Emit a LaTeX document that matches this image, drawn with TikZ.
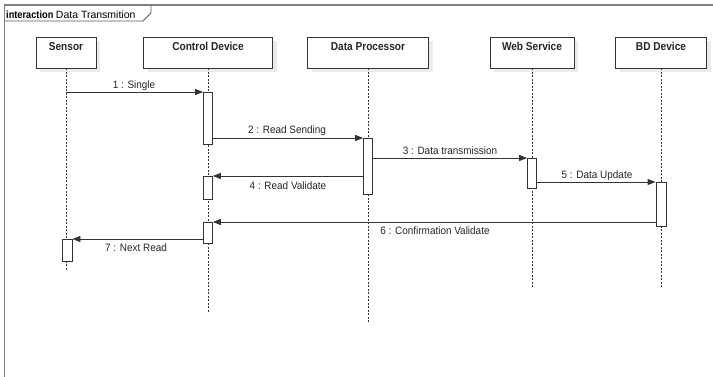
\documentclass[tikz,border=0pt]{standalone}
\usepackage{fontspec}
\setmainfont{Liberation Sans}
\newfontfamily\headfont[FakeStretch=0.88]{Liberation Sans}
\newfontfamily\msgfont[FakeStretch=0.93]{Liberation Sans}
\usetikzlibrary{arrows.meta,shadows}
\definecolor{ln}{HTML}{333333}
\definecolor{fr}{HTML}{808080}
\begin{document}
\begin{tikzpicture}[x=1pt,y=-1pt,
  head/.style={draw=ln, line width=0.8pt, fill=white, minimum height=31pt, inner sep=0pt,
    general shadow={fill=black!8, shadow xshift=4pt, shadow yshift=-4pt}},
  headtxt/.style={font=\headfont\bfseries\fontsize{11.5}{13}\selectfont, text=black!85, anchor=north, yshift=-2pt},
  act/.style={draw=ln, line width=0.8pt, fill=white, minimum width=9pt, inner sep=0pt, anchor=north},
  life/.style={draw=ln, line width=0.6pt, dash pattern=on 2pt off 1.5pt},
  msg/.style={draw=ln, line width=0.8pt, -{Triangle[length=8pt,width=6pt]}},
  lbl/.style={font=\msgfont\fontsize{10.7}{12}\selectfont, text=black!85, inner sep=0pt},
]
\useasboundingbox[fill=white] (0,0) rectangle (713,376);

% frame
\draw[fr, line width=1.6pt] (4.5,377) -- (4.5,5) -- (714,5);
\draw[ln!80, line width=0.9pt] (4.5,21) -- (143,21) -- (151,13) -- (151,5);
\node[anchor=base west, inner sep=0pt] (title) at (6,18)
  {{\headfont\bfseries\fontsize{10.5}{12}\selectfont interaction}\hspace{2.5pt}{\fontsize{10.5}{12}\selectfont Data Transmition}};

% heads
\node[head, minimum width=60pt, label={[headtxt]north:Sensor}] (sensor) at (66,52.5) {};
\node[head, minimum width=129pt, label={[headtxt]north:Control Device}] (ctrl) at (208,52.5) {};
\node[head, minimum width=121pt, label={[headtxt]north:Data Processor}] (dp) at (368,52.5) {};
\node[head, minimum width=84pt, label={[headtxt]north:Web Service}] (web) at (532,52.5) {};
\node[head, minimum width=91pt, label={[headtxt]north:BD Device}] (bd) at (661,52.5) {};

% lifelines
\draw[life] (sensor.south) -- (sensor.south |- 0,270);
\draw[life] (ctrl.south) -- (ctrl.south |- 0,312);
\draw[life] (dp.south) -- (dp.south |- 0,322);
\draw[life] (web.south) -- (web.south |- 0,288);
\draw[life] (bd.south) -- (bd.south |- 0,287);

% activations
\node[act, minimum height=52pt] (a1) at (208,92) {};
\node[act, minimum height=56pt] (a2) at (368,138) {};
\node[act, minimum height=30pt] (a3) at (532,158) {};
\node[act, minimum height=23pt] (a4) at (208,176) {};
\node[act, minimum height=44pt, minimum width=10pt] (a5) at (661,182) {};
\node[act, minimum height=21pt] (a6) at (208,222) {};
\node[act, minimum height=22pt, minimum width=10pt] (a7) at (67,239) {};

% messages
\draw[msg] (sensor.south |- a1.north) -- (a1.north west);
\draw[msg] (a1.east |- a2.north) -- (a2.north west);
\draw[msg] (a2.east |- a3.north) -- (a3.north west);
\draw[msg] (a2.west |- a4.north) -- (a4.north east);
\draw[msg] (a3.east |- a5.north) -- (a5.north west);
\draw[msg] (a5.west |- a6.north) -- (a6.north east);
\draw[msg] (a6.west |- a7.north) -- (a7.north east);

% labels
\node[lbl] (l1) at (134,86) {1 : Single};
\node[lbl] (l2) at (287,131) {2 : Read Sending};
\node[lbl] (l3) at (450,151) {3 : Data transmission};
\node[lbl] (l4) at (288,186) {4 : Read Validate};
\node[lbl] (l5) at (597,176) {5 : Data Update};
\node[lbl] (l6) at (435,231) {6 : Confirmation Validate};
\node[lbl] (l7) at (136,248) {7 : Next Read};
\end{tikzpicture}
\end{document}
